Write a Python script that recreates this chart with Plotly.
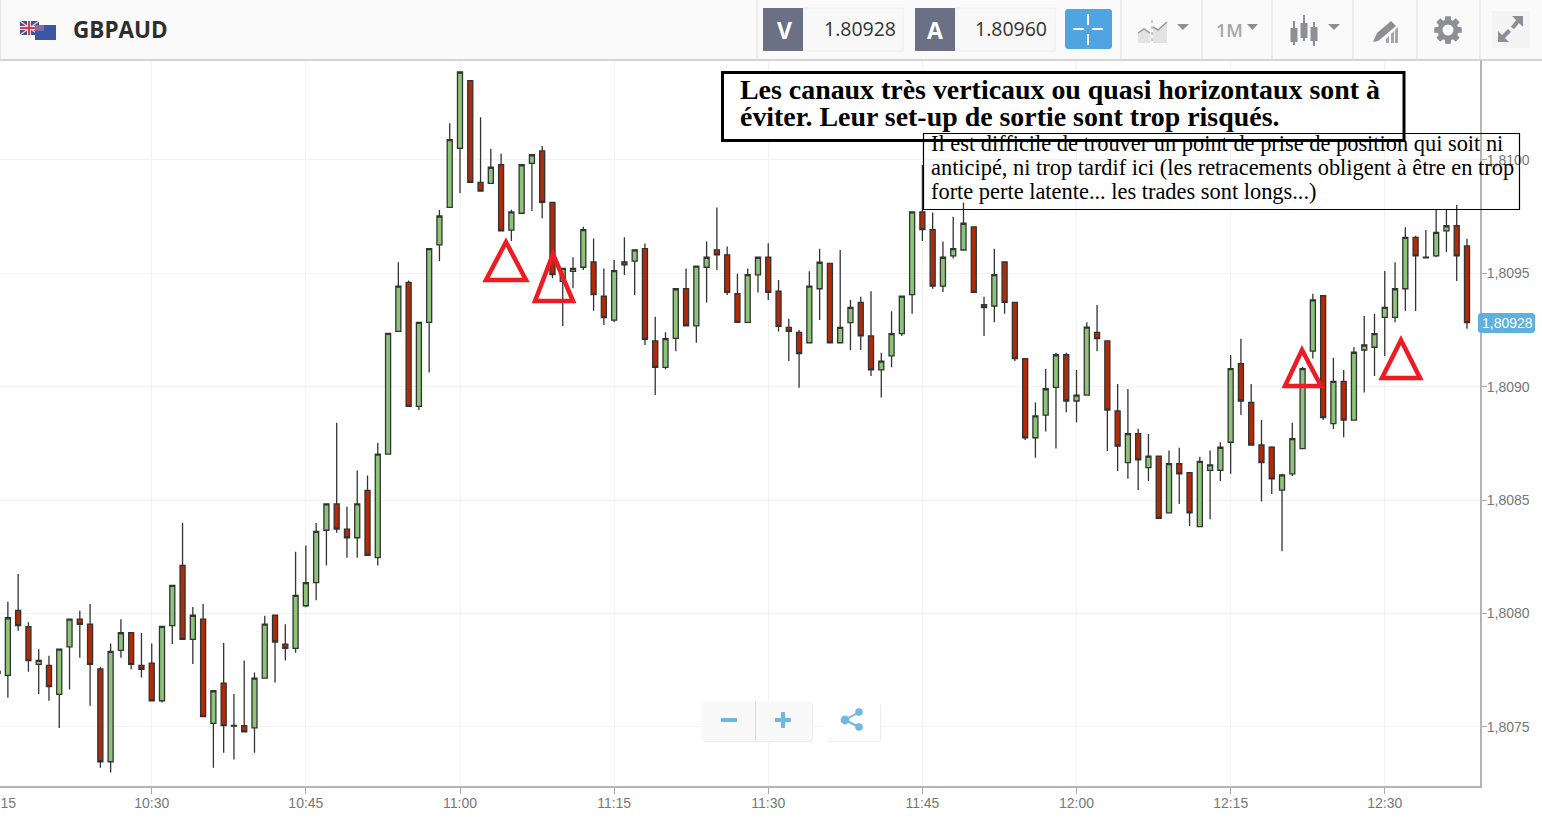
import math
import pandas as pd
import plotly.graph_objects as go

SYMBOL = "GBPAUD"
BID = "1.80928"
ASK = "1.80960"
LAST_LABEL = "1,80928"
FIRST_MINUTE = "2024-01-08 10:15"
TITLE_LINES = ["Les canaux très verticaux ou quasi horizontaux sont à",
               "éviter. Leur set-up de sortie sont trop risqués."]
NOTE_LINES = ["Il est difficile de trouver un point de prise de position qui soit ni",
              "anticipé, ni trop tardif ici (les retracements obligent à être en trop",
              "forte perte latente... les trades sont longs...)"]

highs = [1.807745,
 1.808052,1.808174,1.807961,1.807842,1.807814,1.807845,1.807977,1.808012,1.808042,1.807764,
 1.807868,1.807974,1.807917,1.807914,1.807868,1.807945,1.808125,1.808400,1.808028,1.808042,
 1.807661,1.807870,1.807645,1.807792,1.807740,1.807990,1.807993,1.807952,1.808272,1.808300,
 1.808399,1.808484,1.808841,1.808471,1.808631,1.808609,1.808753,
 1.809237,1.809549,1.809468,1.809284,1.809610,1.809779,1.810162,1.810390,1.810350,1.810188,
 1.810050,1.810028,1.809781,1.809980,1.810023,1.810062,1.809813,1.809522,1.809571,1.809706,
 1.809654,1.809521,1.809559,1.809659,1.809606,1.809632,1.809309,1.809240,1.809434,1.809521,
 1.809532,1.809641,1.809791,1.809618,1.809498,1.809521,1.809572,1.809633,
 1.809471,1.809300,1.809250,1.809509,1.809609,1.809544,1.809603,1.809383,1.809397,1.809421,
 1.809150,1.809333,1.809400,1.809771,1.809978,1.809768,1.809641,1.809750,1.809812,1.809705,
 1.809397,1.809609,1.809550,1.809372,1.809124,1.808930,1.809078,1.809150,1.809150,1.809074,
 1.809284,1.809360,1.809202,1.809012,1.808990,1.808815,1.808791,
 1.808694,1.808719,1.808731,1.808621,1.808691,1.808719,1.808755,1.809140,1.809212,1.809012,
 1.808853,1.808738,1.808616,1.808841,1.809088,1.809410,1.809402,1.809128,1.809074,1.809174,
 1.809312,1.809322,1.809510,1.809549,1.809703,1.809666,1.809691,1.809780,1.809780,1.809802,1.809653]

lows = [1.807735,
 1.807628,1.807924,1.807743,1.807645,1.807615,1.807495,1.807665,1.807805,1.807593,1.807320,
 1.807298,1.807805,1.807754,1.807717,1.807615,1.807607,1.807865,1.807886,1.807777,1.807545,
 1.807320,1.807386,1.807356,1.807478,1.807386,1.807715,1.807695,1.807793,1.807827,1.808027,
 1.808058,1.808212,1.808356,1.808246,1.808246,1.808256,1.808212,
 1.808703,1.809244,1.808913,1.808897,1.809063,1.809554,1.809791,1.809853,1.809901,1.809863,
 1.809897,1.809687,1.809643,1.809765,1.809775,1.809743,1.809478,1.809268,1.809434,1.809515,
 1.809335,1.809272,1.809284,1.809493,1.809404,1.809184,1.808963,1.809077,1.809157,1.809268,
 1.809194,1.809372,1.809515,1.809404,1.809284,1.809284,1.809416,1.809383,
 1.809244,1.809113,1.808996,1.809194,1.809294,1.809194,1.809194,1.809162,1.809162,1.809047,
 1.808953,1.809086,1.809224,1.809322,1.809643,1.809432,1.809418,1.809566,1.809603,1.809416,
 1.809224,1.809284,1.809322,1.809113,1.808765,1.808687,1.808803,1.808727,1.808887,1.808843,
 1.808963,1.809157,1.808716,1.808628,1.808594,1.808544,1.808584,
 1.808419,1.808444,1.808483,1.808386,1.808383,1.808416,1.808584,1.808616,1.808875,1.808743,
 1.808494,1.808527,1.808274,1.808606,1.808727,1.809124,1.808853,1.808814,1.808777,1.808853,
 1.808975,1.809047,1.809136,1.809284,1.809334,1.809334,1.809565,1.809571,1.809594,1.809466,1.809256]

opens = [1.807745,
 1.807727,1.808014,1.807942,1.807775,1.807771,1.807643,1.807853,1.807975,1.807953,1.807755,
 1.807346,1.807837,1.807915,1.807771,1.807781,1.807615,1.807946,1.808212,1.807886,1.807975,
 1.807515,1.807693,1.807503,1.807505,1.807495,1.807715,1.807992,1.807865,1.807846,1.808034,
 1.808136,1.808367,1.808483,1.808372,1.808334,1.808543,1.808246,
 1.808703,1.809244,1.809460,1.808913,1.809284,1.809626,1.809791,1.810051,1.810350,1.809901,
 1.809897,1.809979,1.809691,1.809765,1.809985,1.810040,1.809813,1.809465,1.809509,1.809527,
 1.809550,1.809400,1.809294,1.809538,1.809554,1.809609,1.809202,1.809085,1.809213,1.809432,
 1.809268,1.809527,1.809604,1.809581,1.809410,1.809284,1.809493,1.809571,
 1.809422,1.809262,1.809240,1.809194,1.809432,1.809544,1.809194,1.809283,1.809372,1.809224,
 1.809074,1.809136,1.809234,1.809406,1.809771,1.809693,1.809444,1.809577,1.809603,1.809705,
 1.809362,1.809356,1.809550,1.809372,1.809124,1.808775,1.808875,1.808997,1.809141,1.808937,
 1.808963,1.809240,1.809202,1.808893,1.808665,1.808793,1.808643,
 1.808694,1.808444,1.808661,1.808621,1.808383,1.808631,1.808631,1.808755,1.809102,1.808931,
 1.808743,1.808733,1.808544,1.808616,1.808727,1.809157,1.809402,1.808837,1.809024,1.808853,
 1.809162,1.809174,1.809306,1.809306,1.809432,1.809659,1.809572,1.809577,1.809687,1.809710,1.809621]

closes = [1.807735,
 1.807981,1.807946,1.807792,1.807793,1.807677,1.807843,1.807975,1.807952,1.807775,1.807346,
 1.807833,1.807915,1.807775,1.807754,1.807615,1.807943,1.808124,1.807886,1.807992,1.807545,
 1.807659,1.807505,1.807506,1.807478,1.807715,1.807953,1.807874,1.807846,1.808080,1.808136,
 1.808362,1.808483,1.808372,1.808334,1.808483,1.808256,1.808703,
 1.809235,1.809444,1.808913,1.809284,1.809609,1.809753,1.810090,1.810388,1.809901,1.809863,
 1.809968,1.809687,1.809771,1.809979,1.810023,1.809813,1.809494,1.809522,1.809522,1.809693,
 1.809406,1.809305,1.809512,1.809550,1.809604,1.809209,1.809085,1.809212,1.809432,1.809268,
 1.809532,1.809571,1.809582,1.809416,1.809284,1.809494,1.809571,1.809416,
 1.809266,1.809244,1.809146,1.809444,1.809549,1.809194,1.809262,1.809350,1.809224,1.809074,
 1.809113,1.809234,1.809400,1.809771,1.809693,1.809444,1.809571,1.809609,1.809721,1.809416,
 1.809349,1.809494,1.809372,1.809124,1.808774,1.808871,1.808991,1.809141,1.808937,1.808963,
 1.809263,1.809212,1.808897,1.808738,1.808793,1.808677,1.808694,
 1.808419,1.808661,1.808616,1.808444,1.808671,1.808655,1.808733,1.809080,1.808937,1.808743,
 1.808665,1.808594,1.808611,1.808771,1.809080,1.809383,1.808864,1.809024,1.808853,1.809152,
 1.809184,1.809234,1.809350,1.809432,1.809659,1.809577,1.809568,1.809681,1.809710,1.809577,1.809283]

times = pd.date_range(FIRST_MINUTE, periods=len(closes), freq="min")
assert len(highs) == len(lows) == len(opens) == len(closes)

# ---- page geometry helpers (chrome only, the candles use the axes) ----
W, H = 1542, 823
PX0, PX1, PY0, PY1 = 0, 1480, 60, 786
def X(x): return (x - PX0) / (PX1 - PX0)
def Y(y): return (PY1 - y) / (PY1 - PY0)

shapes = []
def rect(x0, y0, x1, y1, fill=None, line=None, lw=1, opacity=None):
    s = dict(type="rect", xref="paper", yref="paper", x0=X(x0), x1=X(x1), y0=Y(y0), y1=Y(y1),
             line=dict(color=line or "rgba(0,0,0,0)", width=lw if line else 0), layer="above")
    if fill: s["fillcolor"] = fill
    if opacity is not None: s["opacity"] = opacity
    shapes.append(s)
def seg(x0, y0, x1, y1, color, lw=1, dash=None):
    shapes.append(dict(type="line", xref="paper", yref="paper", x0=X(x0), x1=X(x1), y0=Y(y0), y1=Y(y1),
                       line=dict(color=color, width=lw, dash=dash or "solid"), layer="above"))
def poly(pts, fill=None, line=None, lw=1, join_close=True):
    d = "M" + " L".join(f"{X(a):.5f},{Y(b):.5f}" for a, b in pts) + (" Z" if join_close else "")
    shapes.append(dict(type="path", xref="paper", yref="paper", path=d,
                       fillcolor=fill or "rgba(0,0,0,0)",
                       line=dict(color=line or "rgba(0,0,0,0)", width=lw if line else 0), layer="above"))
def disc(cx, cy, r, fill):
    shapes.append(dict(type="circle", xref="paper", yref="paper", x0=X(cx - r), x1=X(cx + r),
                       y0=Y(cy - r), y1=Y(cy + r), fillcolor=fill, line=dict(width=0), layer="above"))
def round_rect(x0, y0, x1, y1, r, fill, line=None):
    n = 5
    pts = []
    for cx, cy, a0 in ((x1 - r, y0 + r, -90), (x1 - r, y1 - r, 0), (x0 + r, y1 - r, 90), (x0 + r, y0 + r, 180)):
        for i in range(n + 1):
            a = math.radians(a0 + 90 * i / n)
            pts.append((cx + r * math.cos(a), cy + r * math.sin(a)))
    poly(pts, fill=fill, line=line)

anns = []
def label(x, y, text, size, color, family="Open Sans", anchor="center", weight=None):
    f = dict(family=family, size=size, color=color)
    if weight: f["weight"] = weight
    anns.append(dict(xref="paper", yref="paper", x=X(x), y=Y(y), text=text, showarrow=False,
                     xanchor=anchor, yanchor="middle", font=f, borderpad=0))

# ---- header bar ----
rect(0, 0, 1542, 59.5, fill="#fafafa")
seg(0, 60, 1542, 60, "#c6c6c6", 1.5)
rect(0, 0, 1.2, 59, fill="#e6e6e6")
# flags
rect(20, 21, 39, 35, fill="#44508f")
seg(20, 28, 39, 28, "#f4f4f4", 4); seg(29, 21, 29, 35, "#f4f4f4", 4)
seg(20, 21, 39, 35, "#f0d0d0", 1.5); seg(39, 21, 20, 35, "#f0d0d0", 1.5)
seg(20, 28, 39, 28, "#e0354a", 2); seg(29, 21, 29, 35, "#e0354a", 2)
rect(35, 25, 56, 40, fill="#3a57a6")
rect(35, 25, 44, 31, fill="#8a6a9c")
label(72, 30, SYMBOL, 22.5, "#2e2e2e", anchor="left", weight=700)
# bid / ask
rect(803, 8, 903, 51, fill="#f8f8f8", line="#eeeeee")
rect(763, 8, 803, 51, fill="#6b7085")
label(784, 30, "V", 23, "#ffffff", weight=700)
label(860, 29, BID, 19.5, "#333333")
rect(955, 8, 1055, 51, fill="#f8f8f8", line="#eeeeee")
rect(915, 8, 955, 51, fill="#6b7085")
label(935, 30, "A", 23, "#ffffff", weight=700)
label(1011, 29, ASK, 19.5, "#333333")
# crosshair button
round_rect(1065, 9, 1112, 49, 3, "#4ea5e2")
for a in ((1073, 29, 1084, 29), (1092, 29, 1103, 29), (1088, 14, 1088, 25), (1088, 34, 1088, 45)):
    seg(*a, "#ffffff", 2)
# separators
for sx in (757, 1121, 1202, 1272, 1353, 1417, 1480):
    seg(sx, 0, sx, 59, "#dedede", 1)
ICON = "#8c8f95"
# area icon
poly([(1138, 43), (1138, 33), (1144, 29), (1150, 33), (1150, 43)], fill="#e3e3e3")
poly([(1153, 43), (1153, 27), (1158, 30), (1167, 22), (1167, 43)], fill="#e3e3e3")
poly([(1138, 33), (1144, 29), (1150, 33)], line="#9a9a9a", lw=1.5, join_close=False)
poly([(1153, 27), (1158, 30), (1167, 22)], line="#9a9a9a", lw=1.5, join_close=False)
seg(1152, 20, 1152, 44, "#9a9a9a", 1, "dot")
def caret(x0, x1, y0, y1):
    poly([(x0, y0), (x1, y0), ((x0 + x1) / 2, y1)], fill=ICON)
caret(1177, 1189, 24, 30)
label(1229, 30, "1M", 18, "#a3a6ab", weight=600)
caret(1247, 1258, 24, 30)
# candle icon
for cx, w0, w1, b0, b1 in ((1294, 21, 45, 28, 42), (1304, 15, 41, 23, 38), (1314, 22, 46, 27, 41)):
    seg(cx, w0, cx, w1, ICON, 2)
    rect(cx - 3.5, b0, cx + 3.5, b1, fill=ICON)
caret(1328, 1340, 24, 30)
# pen icon with bars
poly([(1373, 42), (1377, 33), (1391, 21), (1396, 26), (1383, 37), (1378, 41)], fill=ICON)
poly([(1386, 43), (1386, 39), (1389, 36), (1389, 43)], fill="#a3a6ab")
poly([(1391, 43), (1391, 34), (1394, 31), (1394, 43)], fill="#a3a6ab")
poly([(1395, 43), (1395, 30), (1398, 27), (1398, 43)], fill="#a3a6ab")
# gear
pts = []
for i in range(8):
    c = 2 * math.pi * i / 8
    for da, r in ((-0.30, 10.5), (-0.20, 14), (0.20, 14), (0.30, 10.5)):
        pts.append((1448 + r * math.cos(c + da), 30 + r * math.sin(c + da)))
poly(pts, fill=ICON)
disc(1448, 30, 5.5, "#fafafa")
# expand
rect(1492, 11, 1530, 48, fill="#f4f4f4")
poly([(1523, 16), (1523, 27), (1512, 16)], fill=ICON)
poly([(1498, 42), (1498, 31), (1509, 42)], fill=ICON)
seg(1518, 21, 1512.5, 28, ICON, 4)
seg(1503, 37, 1509.5, 30.5, ICON, 4)

# ---- zoom and share buttons ----
BLUE = "#70b7e2"
round_rect(702, 703, 813, 742, 3, "#ececec")
round_rect(701, 702, 812, 741, 3, "rgba(250,250,250,0.93)")
seg(755.5, 702, 755.5, 741, "#d8d8d8", 1)
seg(721, 720, 737, 720, BLUE, 4)
seg(775, 720, 791, 720, BLUE, 4); seg(783, 712, 783, 728, BLUE, 4)
round_rect(826, 703, 881, 742, 3, "#ececec")
round_rect(825, 702, 880, 741, 3, "#ffffff")
seg(845, 720, 859, 712, BLUE, 2); seg(845, 720, 859, 727, BLUE, 2)
disc(859, 712, 3.8, BLUE); disc(845, 720, 4.4, BLUE); disc(859, 727, 3.8, BLUE)

# ---- hand-drawn triangles ----
RED = "#ed1c24"
for a, l, r in (((506, 242), (486, 280), (526, 280)), ((553, 254), (535, 301), (573, 301)),
                ((1302, 350), (1285, 386), (1321, 386)), ((1401, 340), (1382, 378), (1420, 378))):
    poly([a, l, r], line=RED, lw=4.5)

# ---- pasted comment boxes ----
rect(722.5, 72.5, 1404, 140.5, fill="#ffffff", line="#000000", lw=3)
rect(923.5, 133.5, 1519.5, 209.5, line="#000000", lw=1.2)
for yy, t in zip((90, 117), TITLE_LINES):
    label(739, yy, t, 27.9, "#000000", family="Liberation Serif", anchor="left", weight=700)
for yy, t in zip((144, 168, 192), NOTE_LINES):
    label(929.5, yy, t, 22.4, "#000000", family="Liberation Serif", anchor="left")

# ---- last price tag ----
round_rect(1478, 313, 1535, 333, 3, "#5eb0de")
anns.append(dict(xref="paper", yref="y", x=X(1507.5), y=closes[-1], text=LAST_LABEL, showarrow=False,
                 xanchor="center", yanchor="middle",
                 font=dict(family="Liberation Sans", size=14, color="#ffffff")))
# clipped first tick label on the left page edge
label(-2, 803, "10:15", 14, "#777777", family="Liberation Sans")

fig = go.Figure(go.Candlestick(
    x=times, open=opens, high=highs, low=lows, close=closes,
    increasing=dict(line=dict(color="#333333", width=1.3), fillcolor="#8cc47a"),
    decreasing=dict(line=dict(color="#333333", width=1.3), fillcolor="#b32a08"),
    whiskerwidth=0, hoverinfo="skip", showlegend=False,
))

AXIS_FONT = dict(family="Liberation Sans", size=14, color="#777777")
fig.update_layout(
    width=W, height=H, autosize=False,
    margin=dict(l=PX0, r=W - PX1, t=PY0, b=H - PY1, autoexpand=False),
    paper_bgcolor="#ffffff", plot_bgcolor="#ffffff",
    separators=", ",
    showlegend=False,
    shapes=shapes, annotations=anns,
    xaxis=dict(
        type="date",
        range=["2024-01-08 10:15:14", "2024-01-08 12:39:16"],
        rangeslider=dict(visible=False),
        tick0="2024-01-08 10:30", dtick=900000, tickformat="%H:%M",
        showgrid=True, gridcolor="#f2f2f2", gridwidth=1,
        showline=True, linecolor="#b4b4b4", linewidth=2,
        ticks="outside", ticklen=6, tickcolor="#aaaaaa", tickwidth=1,
        tickfont=AXIS_FONT, anchor="y", ticklabelstandoff=-3,
    ),
    yaxis=dict(
        side="right",
        range=[1.807239, 1.810441],
        tick0=1.8, dtick=0.0005, tickformat=".4f",
        showgrid=True, gridcolor="#f2f2f2", gridwidth=1,
        showline=True, linecolor="#b4b4b4", linewidth=2,
        ticks="outside", ticklen=5, tickcolor="#aaaaaa", tickwidth=1,
        tickfont=AXIS_FONT, anchor="x", zeroline=False, ticklabelstandoff=-3,
    ),
)

fig.write_html("out.html", config={"displayModeBar": False, "staticPlot": True},
               post_script="document.body.style.margin='0';document.body.style.overflow='hidden';")
